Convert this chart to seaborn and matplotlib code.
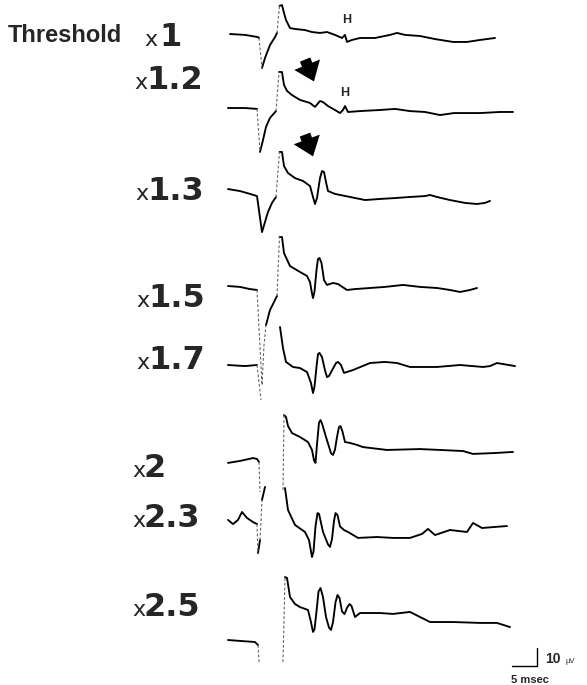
import numpy as np
import pandas as pd
import matplotlib
matplotlib.use("Agg")
import matplotlib.pyplot as plt
import seaborn as sns

nan = float("nan")

# ---------------- data (time in ms from sweep start, amplitude in µV) ----------------
stim_labels = ["1", "1.2", "1.3", "1.5", "1.7", "2", "2.3", "2.5"]

t1 = [0.4, 3.4, 6.0, 6.2, 6.8, 7.4, 8.4, 9.4, 9.8, 10.3, 10.8, 11.2, 11.6, 12.4, 13.4, 15.4, 16.8,
      18.4, 19.8, 21.4, 22.8, 23.4, 23.8, 24.8, 26.4, 29.4, 32.4, 33.8, 35.4, 38.4, 41.4, 45.0,
      47.8, 50.4, 53.4]
v1 = [1.1, 0.6, -0.6, -1.1, -17.8, -12.2, -5.0, -0.6, 1.7, 16.7, 17.2, 12.8, 8.9, 4.4, 3.9, 3.3, 2.2,
      1.7, 2.2, 0.6, -1.1, 0.6, -3.3, -2.2, -1.1, -1.1, 0.6, 1.7, 0.6, 0.0, -1.7, -3.3,
      -3.3, -2.2, -1.1]

t2 = [0.0, 3.4, 5.8, 6.4, 7.0, 7.6, 8.4, 9.6, 10.2, 10.8, 11.2, 11.8, 12.8, 14.4, 16.4, 17.4, 18.4,
      19.0, 20.0, 21.4, 22.4, 23.0, 23.4, 24.0, 26.4, 30.4, 33.4, 36.4, 39.4, 42.4, 45.2, 50.4,
      54.4, 57.0]
v2 = [1.1, 1.1, 0.6, -23.3, -16.7, -9.4, -4.4, -0.6, 21.1, 21.1, 13.9, 10.6, 8.3, 5.6, 3.9, 1.7, 5.0,
      4.4, 2.2, 0.0, -1.7, 0.0, 2.2, -1.1, -0.6, 0.0, 0.6, -0.6, -1.1, -2.8, -1.7, -1.7,
      -1.1, -1.1]

t3 = [0.0, 2.4, 4.4, 5.8, 6.8, 7.4, 8.0, 8.8, 9.6, 10.3, 10.8, 11.2, 12.0, 13.4, 15.0, 16.4, 17.0,
      17.4, 17.8, 18.4, 18.8, 19.2, 19.6, 20.0, 21.4, 24.4, 27.4, 30.4, 33.4, 36.4, 39.4, 40.4,
      41.8, 44.4, 47.4, 49.8, 51.4, 52.4]
v3 = [3.3, 2.2, 0.6, -0.6, -20.6, -15.0, -9.4, -4.4, -1.1, 23.9, 23.9, 16.1, 12.2, 9.4, 7.8, 5.0, -1.1,
      -5.0, -1.7, 9.4, 13.3, 12.8, 7.2, 2.2, 0.6, -1.1, -2.8, -2.2, -1.7, -1.1, -0.6, 0.0,
      -1.1, -2.8, -4.4, -5.0, -4.4, -3.3]

t4 = [0.0, 2.4, 4.4, 5.8, 6.8, 7.2, 7.6, 8.4, 9.4, 9.8, 10.3, 10.8, 11.2, 12.4, 14.4, 15.8, 16.4,
      16.8, 17.0, 17.3, 17.7, 18.0, 18.3, 18.7, 19.2, 19.8, 21.0, 22.0, 23.8, 25.4, 28.4, 31.4,
      35.0, 38.4, 41.8, 44.4, 46.4, 48.4, 49.8]
v4 = [1.1, 0.6, -0.6, -1.1, -53.9, -31.7, -20.6, -12.2, -6.7, -4.4, 28.3, 28.3, 19.4, 12.2, 8.9, 6.7, 3.3,
      -3.0, -5.6, -2.0, 10.0, 16.1, 16.7, 13.9, 4.4, 1.7, 2.8, 2.2, -1.1, -0.6, 0.0, 0.6,
      1.7, 0.6, 0.0, -1.1, -2.2, -1.1, 0.0]

t5 = [0.0, 3.4, 5.8, 6.6, nan, 10.4, 11.0, 11.6, 13.0, 14.4, 15.8, 16.6, 17.0, 17.3, 17.7, 18.0, 18.3,
      18.8, 19.4, 19.8, 20.2, 20.8, 21.6, 22.0, 22.6, 23.2, 25.0, 28.4, 31.4, 33.8, 36.4, 41.8,
      46.4, 51.0, 52.4, 53.8, 57.4]
v5 = [0.0, -0.6, 0.0, -19.4, nan, 21.1, 9.4, 1.7, -1.1, -1.7, -3.9, -10.0, -15.6, -12.0, -1.0, 6.1, 6.7,
      4.4, -3.0, -6.7, -6.1, -3.0, 1.1, 1.7, 0.0, -4.4, -2.8, 1.1, 1.7, 1.1, -1.1, -1.1,
      0.0, -1.1, -0.6, 1.1, -0.6]

t6 = [0.0, 2.4, 5.0, 5.8, 6.2, 6.4, nan, 11.0, 11.2, 11.6, 12.0, 12.8, 14.4, 16.0, 16.8, 17.2, 17.5,
      17.8, 18.2, 18.5, 18.8, 19.6, 20.6, 21.0, 21.4, 21.8, 22.2, 22.5, 22.9, 23.4, 24.4, 25.8,
      27.0, 31.8, 38.4, 42.4, 47.0, 49.0, 53.4, 57.0]
v6 = [-4.4, -3.3, -1.7, -2.2, -3.9, -20.6, nan, -19.4, 22.2, 21.1, 16.1, 12.2, 10.0, 7.2, 2.8, -3.0, -4.4,
      6.0, 18.0, 19.4, 17.5, 10.0, 1.0, 0.0, 3.0, 10.0, 15.6, 16.1, 13.0, 7.2, 6.7, 5.6,
      4.4, 2.8, 3.3, 2.8, 2.2, 0.6, 1.1, 1.7]

t7 = [0.0, 1.0, 2.0, 2.8, 3.8, 5.0, 5.8, 6.0, 6.4, 6.8, 7.4, nan, 11.4, 12.0, 13.4, 15.4, 16.2, 16.8,
      17.1, 17.5, 17.9, 18.2, 18.6, 19.0, 20.0, 20.4, 20.8, 21.2, 21.5, 21.9, 22.4, 23.2, 24.0,
      26.0, 29.8, 33.0, 36.4, 38.8, 40.0, 41.4, 44.4, 47.8, 49.0, 50.8, 53.4, 55.8]
v7 = [5.6, 3.3, 5.6, 10.0, 6.7, 4.4, 3.3, -12.8, -5.6, 16.7, 23.9, nan, 23.3, 11.1, 2.8, -1.1, -5.6, -15.0,
      -12.0, 2.0, 9.4, 9.0, 4.0, -1.1, -8.0, -9.4, -5.0, 5.0, 9.4, 8.3, 2.0, 0.0, -1.1,
      -4.4, -3.9, -4.4, -4.4, -2.2, 0.6, -2.8, 0.0, -1.1, 3.9, 1.1, 1.7, 2.2]

t8 = [0.0, 2.4, 5.4, 6.0, 6.2, nan, 11.0, 11.4, 11.8, 12.4, 13.4, 14.4, 16.0, 16.6, 17.0, 17.3, 17.7,
      18.1, 18.5, 19.0, 19.6, 20.2, 20.6, 21.0, 21.5, 21.9, 22.3, 22.8, 23.3, 23.8, 24.3, 24.7,
      25.4, 26.4, 30.4, 33.0, 36.4, 38.4, 40.4, 45.0, 50.4, 53.8, 56.4]
v8 = [-13.9, -14.4, -15.0, -16.7, -26.1, nan, -26.1, 21.1, 20.6, 10.0, 6.1, 4.4, 2.8, -4.0, -9.4, -8.0, 2.0,
      13.0, 15.0, 10.0, -1.1, -7.0, -8.3, -4.0, 7.0, 11.1, 9.5, 2.0, 0.5, 4.0, 6.1, 5.0,
      -1.1, 1.1, 1.1, 0.6, 1.7, -1.1, -3.9, -3.9, -4.4, -4.4, -6.7]

trace_t = [t1, t2, t3, t4, t5, t6, t7, t8]
trace_v = [v1, v2, v3, v4, v5, v6, v7, v8]

SCALE_MS = 5
SCALE_UV = 10
ARTIFACT_END_MS = 12.0   # steep jumps before this time are the faint stimulus-artifact sweep

# ---------------- layout ----------------
W, H = 587, 685
PX_PER_MS = 5.0
PX_PER_UV = 1.8
X0_PX = 228
ROW_BASE_PX = [36, 110, 195, 288, 365, 455, 530, 615]
LABEL_BASELINE_PX = [46, 89, 200, 307, 369, 477, 527, 616]
LABEL_X_PX = [144, 134, 135, 136, 136, 132, 132, 132]
DIGIT_DX_PX = [15, 12, 12, 12, 12, 12, 12, 12]

rows = []
seg = 0
for i, (tt, vv) in enumerate(zip(trace_t, trace_v)):
    off = -ROW_BASE_PX[i] / PX_PER_UV
    runs, cur = [], []
    for t, v in zip(tt, vv):
        if np.isnan(t):
            if cur:
                runs.append(cur)
            cur = []
        else:
            cur.append((t, v + off))
    if cur:
        runs.append(cur)
    for run in runs:
        prev_kind = None
        for a, b in zip(run[:-1], run[1:]):
            dx = abs(b[0] - a[0]) * PX_PER_MS
            dy = abs(b[1] - a[1]) * PX_PER_UV
            steep = dy > 8.5 * max(dx, 1e-6) and dy > 10 and b[0] <= ARTIFACT_END_MS
            kind = "fast" if steep else "slow"
            if kind != prev_kind:
                seg += 1
                prev_kind = kind
                rows.append(dict(t=a[0], y=a[1], seg=seg, kind=kind))
            rows.append(dict(t=b[0], y=b[1], seg=seg, kind=kind))
df = pd.DataFrame(rows)

sns.set_theme(style="white")
fig = plt.figure(figsize=(W / 100, H / 100), dpi=100)
fig.patch.set_facecolor("white")
ax = fig.add_axes([0, 0, 1, 1])
ax.set_xlim(-X0_PX / PX_PER_MS, (W - X0_PX) / PX_PER_MS)
ax.set_ylim(-H / PX_PER_UV, 0)
ax.axis("off")

sns.lineplot(data=df[df.kind == "slow"], x="t", y="y", units="seg", estimator=None, sort=False,
             color="black", lw=1.35, ax=ax, legend=False)
sns.lineplot(data=df[df.kind == "fast"], x="t", y="y", units="seg", estimator=None, sort=False,
             color="#666666", lw=0.8, ax=ax, legend=False, linestyle=(0, (2.5, 1.8)))
for ln in ax.lines:
    ln.set_solid_joinstyle("round")
    ln.set_solid_capstyle("round")

def fx(px):
    return px / W

def fy(py):
    return 1 - py / H

fig.text(fx(8), fy(42), "Threshold", fontsize=17, fontweight="bold", family="Liberation Sans",
         ha="left", va="baseline")
for i, lab in enumerate(stim_labels):
    fig.text(fx(LABEL_X_PX[i]), fy(LABEL_BASELINE_PX[i]), "x", fontsize=16, family="DejaVu Sans",
             ha="left", va="baseline")
    fig.text(fx(LABEL_X_PX[i] + DIGIT_DX_PX[i]), fy(LABEL_BASELINE_PX[i]), lab, fontsize=23,
             fontweight="bold", family="DejaVu Sans", ha="left", va="baseline")

# H markers
fig.text(fx(347), fy(20), "H", fontsize=9, fontweight="bold", family="Liberation Sans", ha="center", va="center")
fig.text(fx(345), fy(93), "H", fontsize=9, fontweight="bold", family="Liberation Sans", ha="center", va="center")

# arrows
for (x0, y0, x1, y1) in [(304, 57, 315, 84), (304, 132, 314, 159)]:
    fig.patches.append(matplotlib.patches.FancyArrowPatch(
        (fx(x0), fy(y0)), (fx(x1), fy(y1)), transform=fig.transFigure,
        arrowstyle="simple,head_length=0.65,head_width=1.0,tail_width=0.4",
        mutation_scale=20, color="black", lw=0))

# scale bar
bx_ms = (537 - X0_PX) / PX_PER_MS
by_uv = -666 / PX_PER_UV
ax.plot([bx_ms - SCALE_MS, bx_ms, bx_ms], [by_uv, by_uv, by_uv + SCALE_UV], color="black", lw=1.0)
fig.text(fx(545), fy(663), "10", fontsize=10, fontweight="bold", family="Liberation Sans", ha="left", va="baseline")
fig.text(fx(565), fy(663), "µV", fontsize=5.5, family="Liberation Sans", ha="left", va="baseline")
fig.text(fx(511), fy(683), "5 msec", fontsize=8, fontweight="bold", family="Liberation Sans", ha="left", va="baseline")

fig.savefig("out.png", dpi=100, facecolor="white")
